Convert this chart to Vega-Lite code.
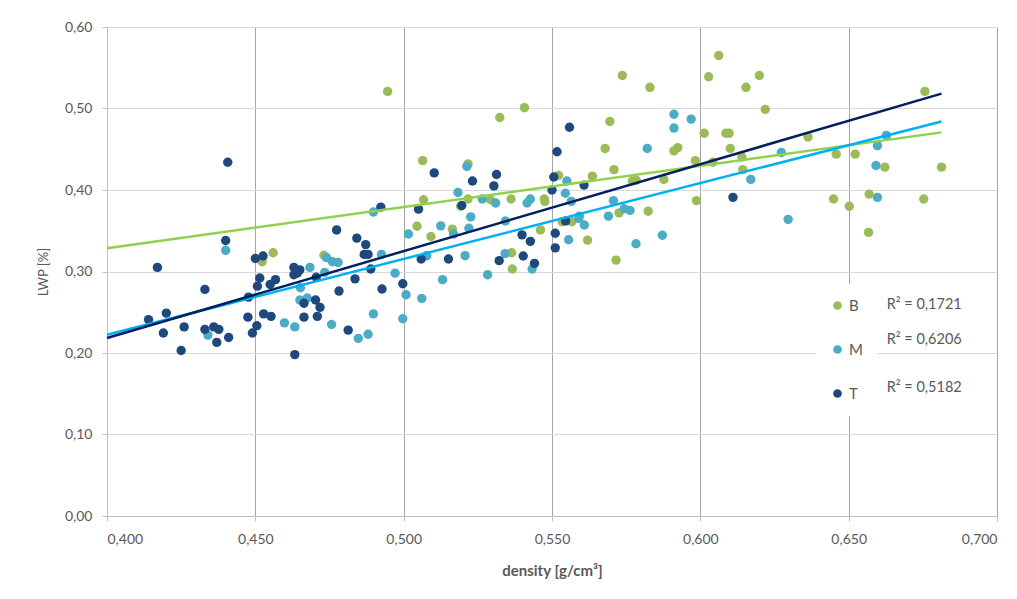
{
  "$schema": "https://vega.github.io/schema/vega-lite/v6.json",
  "width": 890,
  "height": 489,
  "autosize": {"type": "none"},
  "padding": {"left": 107, "top": 27, "right": 20, "bottom": 83},
  "background": "white",
  "datasets": {
    "pts": [
      {"series":"B","density":0.456,"lwp":0.323},{"series":"B","density":0.4523,"lwp":0.312},{"series":"B","density":0.4731,"lwp":0.320},{"series":"B","density":0.4946,"lwp":0.521},{"series":"B","density":0.5407,"lwp":0.501},{"series":"B","density":0.5324,"lwp":0.489},{"series":"B","density":0.5064,"lwp":0.436},{"series":"B","density":0.5217,"lwp":0.432},{"series":"B","density":0.5522,"lwp":0.418},{"series":"B","density":0.5067,"lwp":0.388},{"series":"B","density":0.5217,"lwp":0.389},{"series":"B","density":0.5192,"lwp":0.380},{"series":"B","density":0.5293,"lwp":0.388},{"series":"B","density":0.5362,"lwp":0.389},{"series":"B","density":0.5474,"lwp":0.389},{"series":"B","density":0.5476,"lwp":0.386},{"series":"B","density":0.5045,"lwp":0.3555},{"series":"B","density":0.5092,"lwp":0.343},{"series":"B","density":0.5164,"lwp":0.352},{"series":"B","density":0.5461,"lwp":0.351},{"series":"B","density":0.5534,"lwp":0.361},{"series":"B","density":0.5567,"lwp":0.361},{"series":"B","density":0.5364,"lwp":0.323},{"series":"B","density":0.5366,"lwp":0.303},{"series":"B","density":0.5726,"lwp":0.372},{"series":"B","density":0.5824,"lwp":0.374},{"series":"B","density":0.5987,"lwp":0.387},{"series":"B","density":0.562,"lwp":0.3385},{"series":"B","density":0.5716,"lwp":0.314},{"series":"B","density":0.5737,"lwp":0.5405},{"series":"B","density":0.583,"lwp":0.526},{"series":"B","density":0.6028,"lwp":0.539},{"series":"B","density":0.6154,"lwp":0.526},{"series":"B","density":0.6199,"lwp":0.5405},{"series":"B","density":0.6062,"lwp":0.565},{"series":"B","density":0.6219,"lwp":0.499},{"series":"B","density":0.5695,"lwp":0.484},{"series":"B","density":0.6013,"lwp":0.4696},{"series":"B","density":0.6086,"lwp":0.4696},{"series":"B","density":0.6097,"lwp":0.4696},{"series":"B","density":0.5679,"lwp":0.451},{"series":"B","density":0.5911,"lwp":0.448},{"series":"B","density":0.5924,"lwp":0.452},{"series":"B","density":0.6101,"lwp":0.451},{"series":"B","density":0.5983,"lwp":0.436},{"series":"B","density":0.614,"lwp":0.4405},{"series":"B","density":0.6143,"lwp":0.425},{"series":"B","density":0.5709,"lwp":0.425},{"series":"B","density":0.5636,"lwp":0.417},{"series":"B","density":0.5771,"lwp":0.411},{"series":"B","density":0.5784,"lwp":0.412},{"series":"B","density":0.5877,"lwp":0.413},{"series":"B","density":0.6757,"lwp":0.521},{"series":"B","density":0.6363,"lwp":0.465},{"series":"B","density":0.6042,"lwp":0.434},{"series":"B","density":0.6458,"lwp":0.444},{"series":"B","density":0.6522,"lwp":0.444},{"series":"B","density":0.6622,"lwp":0.428},{"series":"B","density":0.6813,"lwp":0.428},{"series":"B","density":0.6449,"lwp":0.389},{"series":"B","density":0.6502,"lwp":0.380},{"series":"B","density":0.6569,"lwp":0.395},{"series":"B","density":0.6753,"lwp":0.389},{"series":"B","density":0.6567,"lwp":0.348},
      {"series":"M","density":0.440,"lwp":0.326},{"series":"M","density":0.434,"lwp":0.222},{"series":"M","density":0.474,"lwp":0.317},{"series":"M","density":0.476,"lwp":0.312},{"series":"M","density":0.4779,"lwp":0.311},{"series":"M","density":0.4684,"lwp":0.305},{"series":"M","density":0.4734,"lwp":0.299},{"series":"M","density":0.4925,"lwp":0.321},{"series":"M","density":0.4971,"lwp":0.298},{"series":"M","density":0.5016,"lwp":0.346},{"series":"M","density":0.5008,"lwp":0.2715},{"series":"M","density":0.4652,"lwp":0.280},{"series":"M","density":0.4650,"lwp":0.265},{"series":"M","density":0.4675,"lwp":0.2675},{"series":"M","density":0.4598,"lwp":0.237},{"series":"M","density":0.4633,"lwp":0.232},{"series":"M","density":0.4757,"lwp":0.235},{"series":"M","density":0.4847,"lwp":0.218},{"series":"M","density":0.488,"lwp":0.223},{"series":"M","density":0.4898,"lwp":0.248},{"series":"M","density":0.4997,"lwp":0.242},{"series":"M","density":0.4898,"lwp":0.373},{"series":"M","density":0.5213,"lwp":0.429},{"series":"M","density":0.555,"lwp":0.411},{"series":"M","density":0.5545,"lwp":0.396},{"series":"M","density":0.5565,"lwp":0.386},{"series":"M","density":0.5183,"lwp":0.397},{"series":"M","density":0.5265,"lwp":0.389},{"series":"M","density":0.531,"lwp":0.384},{"series":"M","density":0.5416,"lwp":0.384},{"series":"M","density":0.5427,"lwp":0.389},{"series":"M","density":0.5226,"lwp":0.367},{"series":"M","density":0.522,"lwp":0.353},{"series":"M","density":0.5125,"lwp":0.356},{"series":"M","density":0.5168,"lwp":0.346},{"series":"M","density":0.5343,"lwp":0.362},{"series":"M","density":0.5556,"lwp":0.339},{"series":"M","density":0.5342,"lwp":0.322},{"series":"M","density":0.5207,"lwp":0.3194},{"series":"M","density":0.5078,"lwp":0.3194},{"series":"M","density":0.5131,"lwp":0.290},{"series":"M","density":0.5283,"lwp":0.296},{"series":"M","density":0.5061,"lwp":0.267},{"series":"M","density":0.5707,"lwp":0.387},{"series":"M","density":0.5743,"lwp":0.377},{"series":"M","density":0.5763,"lwp":0.375},{"series":"M","density":0.559,"lwp":0.365},{"series":"M","density":0.5609,"lwp":0.357},{"series":"M","density":0.569,"lwp":0.368},{"series":"M","density":0.5783,"lwp":0.334},{"series":"M","density":0.5872,"lwp":0.3445},{"series":"M","density":0.5433,"lwp":0.303},{"series":"M","density":0.5911,"lwp":0.493},{"series":"M","density":0.5969,"lwp":0.487},{"series":"M","density":0.5911,"lwp":0.476},{"series":"M","density":0.5821,"lwp":0.451},{"series":"M","density":0.617,"lwp":0.413},{"series":"M","density":0.5592,"lwp":0.368},{"series":"M","density":0.6273,"lwp":0.446},{"series":"M","density":0.6597,"lwp":0.4545},{"series":"M","density":0.6627,"lwp":0.467},{"series":"M","density":0.6592,"lwp":0.430},{"series":"M","density":0.6597,"lwp":0.391},{"series":"M","density":0.6296,"lwp":0.364},
      {"series":"T","density":0.4407,"lwp":0.434},{"series":"T","density":0.440,"lwp":0.338},{"series":"T","density":0.417,"lwp":0.305},{"series":"T","density":0.433,"lwp":0.278},{"series":"T","density":0.414,"lwp":0.241},{"series":"T","density":0.420,"lwp":0.249},{"series":"T","density":0.419,"lwp":0.2245},{"series":"T","density":0.426,"lwp":0.232},{"series":"T","density":0.425,"lwp":0.203},{"series":"T","density":0.433,"lwp":0.229},{"series":"T","density":0.436,"lwp":0.232},{"series":"T","density":0.4377,"lwp":0.229},{"series":"T","density":0.437,"lwp":0.213},{"series":"T","density":0.441,"lwp":0.219},{"series":"T","density":0.4475,"lwp":0.244},{"series":"T","density":0.449,"lwp":0.2245},{"series":"T","density":0.4505,"lwp":0.2335},{"series":"T","density":0.450,"lwp":0.316},{"series":"T","density":0.4507,"lwp":0.282},{"series":"T","density":0.4515,"lwp":0.292},{"series":"T","density":0.4477,"lwp":0.2686},{"series":"T","density":0.4774,"lwp":0.351},{"series":"T","density":0.4842,"lwp":0.341},{"series":"T","density":0.4872,"lwp":0.333},{"series":"T","density":0.4867,"lwp":0.321},{"series":"T","density":0.488,"lwp":0.321},{"series":"T","density":0.4526,"lwp":0.319},{"series":"T","density":0.463,"lwp":0.305},{"series":"T","density":0.4641,"lwp":0.298},{"series":"T","density":0.463,"lwp":0.296},{"series":"T","density":0.465,"lwp":0.302},{"series":"T","density":0.4705,"lwp":0.293},{"series":"T","density":0.4889,"lwp":0.303},{"series":"T","density":0.4997,"lwp":0.285},{"series":"T","density":0.4836,"lwp":0.291},{"series":"T","density":0.4568,"lwp":0.290},{"series":"T","density":0.455,"lwp":0.284},{"series":"T","density":0.4782,"lwp":0.276},{"series":"T","density":0.4927,"lwp":0.2785},{"series":"T","density":0.4703,"lwp":0.265},{"series":"T","density":0.4664,"lwp":0.261},{"series":"T","density":0.4718,"lwp":0.256},{"series":"T","density":0.4709,"lwp":0.245},{"series":"T","density":0.4664,"lwp":0.244},{"series":"T","density":0.4528,"lwp":0.248},{"series":"T","density":0.4553,"lwp":0.245},{"series":"T","density":0.4633,"lwp":0.198},{"series":"T","density":0.4813,"lwp":0.228},{"series":"T","density":0.4923,"lwp":0.379},{"series":"T","density":0.5559,"lwp":0.477},{"series":"T","density":0.5517,"lwp":0.447},{"series":"T","density":0.5103,"lwp":0.421},{"series":"T","density":0.5232,"lwp":0.411},{"series":"T","density":0.5313,"lwp":0.419},{"series":"T","density":0.5304,"lwp":0.405},{"series":"T","density":0.5506,"lwp":0.416},{"series":"T","density":0.550,"lwp":0.400},{"series":"T","density":0.505,"lwp":0.3765},{"series":"T","density":0.5196,"lwp":0.381},{"series":"T","density":0.5399,"lwp":0.345},{"series":"T","density":0.5427,"lwp":0.337},{"series":"T","density":0.5511,"lwp":0.347},{"series":"T","density":0.5511,"lwp":0.329},{"series":"T","density":0.5403,"lwp":0.319},{"series":"T","density":0.5322,"lwp":0.3133},{"series":"T","density":0.5151,"lwp":0.3153},{"series":"T","density":0.5059,"lwp":0.3153},{"series":"T","density":0.5608,"lwp":0.406},{"series":"T","density":0.5546,"lwp":0.362},{"series":"T","density":0.5441,"lwp":0.310},{"series":"T","density":0.611,"lwp":0.391}
    ],
    "trend": [
      {"series":"B","density":0.4,"lwp":0.3285},{"series":"B","density":0.6813,"lwp":0.4707},
      {"series":"M","density":0.4,"lwp":0.2224},{"series":"M","density":0.6813,"lwp":0.4841},
      {"series":"T","density":0.4,"lwp":0.2184},{"series":"T","density":0.6813,"lwp":0.5183}
    ],
    "r2": [
      {"series":"B","density":0.6628,"lwp":0.2589,"label":"R² = 0,1721"},
      {"series":"M","density":0.6628,"lwp":0.216,"label":"R² = 0,6206"},
      {"series":"T","density":0.6628,"lwp":0.157,"label":"R² = 0,5182"}
    ]
  },
  "layer": [
    {
      "data": {"name": "pts"},
      "mark": {"type": "circle", "size": 88, "opacity": 1},
      "encoding": {
        "x": {"field": "density", "type": "quantitative", "scale": {"domain": [0.4, 0.7], "nice": false, "zero": false},
          "axis": {"title": "density [g/cm³]", "values": [0.4, 0.45, 0.5, 0.55, 0.6, 0.65, 0.7], "format": ".3f",
            "gridColor": "#a6a6a6", "titleFontWeight": "bold", "titleFontSize": 15, "titlePadding": 17, "labelPadding": 11}},
        "y": {"field": "lwp", "type": "quantitative", "scale": {"domain": [0, 0.6], "nice": false},
          "axis": {"title": "LWP [%]", "values": [0, 0.1, 0.2, 0.3, 0.4, 0.5, 0.6], "format": ".2f",
            "gridColor": "#d9d9d9", "titleFontWeight": "normal", "titleFontSize": 13, "titlePadding": 14, "labelPadding": 10}},
        "color": {"field": "series", "type": "nominal",
          "scale": {"domain": ["B", "M", "T"], "range": ["#9bbb59", "#4bacc6", "#1f497d"]},
          "legend": {"title": null, "orient": "none", "legendX": 709, "legendY": 257, "fillColor": "white",
            "padding": 14, "symbolType": "circle", "symbolSize": 75, "labelFontSize": 15, "labelColor": "#595959",
            "rowPadding": 28, "labelOffset": 4}}
      }
    },
    {
      "data": {"name": "trend"},
      "mark": {"type": "line", "strokeWidth": 2.5},
      "encoding": {
        "x": {"field": "density", "type": "quantitative"},
        "y": {"field": "lwp", "type": "quantitative"},
        "color": {"field": "series", "type": "nominal",
          "scale": {"domain": ["B", "M", "T"], "range": ["#92d050", "#00b0f0", "#002060"]}, "legend": null}
      }
    },
    {
      "data": {"name": "r2"},
      "mark": {"type": "text", "align": "left", "baseline": "middle", "fontSize": 14.5, "color": "#595959"},
      "encoding": {
        "x": {"field": "density", "type": "quantitative"},
        "y": {"field": "lwp", "type": "quantitative"},
        "text": {"field": "label"}
      }
    }
  ],
  "resolve": {"scale": {"color": "independent"}},
  "config": {
    "font": "Lato",
    "locale": {"number": {"decimal": ",", "thousands": ".", "grouping": [3], "currency": ["", " €"]}},
    "view": {"stroke": null},
    "axis": {"labelFontSize": 14, "labelColor": "#595959", "titleColor": "#595959", "domainColor": "#bfbfbf",
      "tickColor": "#bfbfbf", "tickSize": 5, "gridWidth": 1}
  }
}
